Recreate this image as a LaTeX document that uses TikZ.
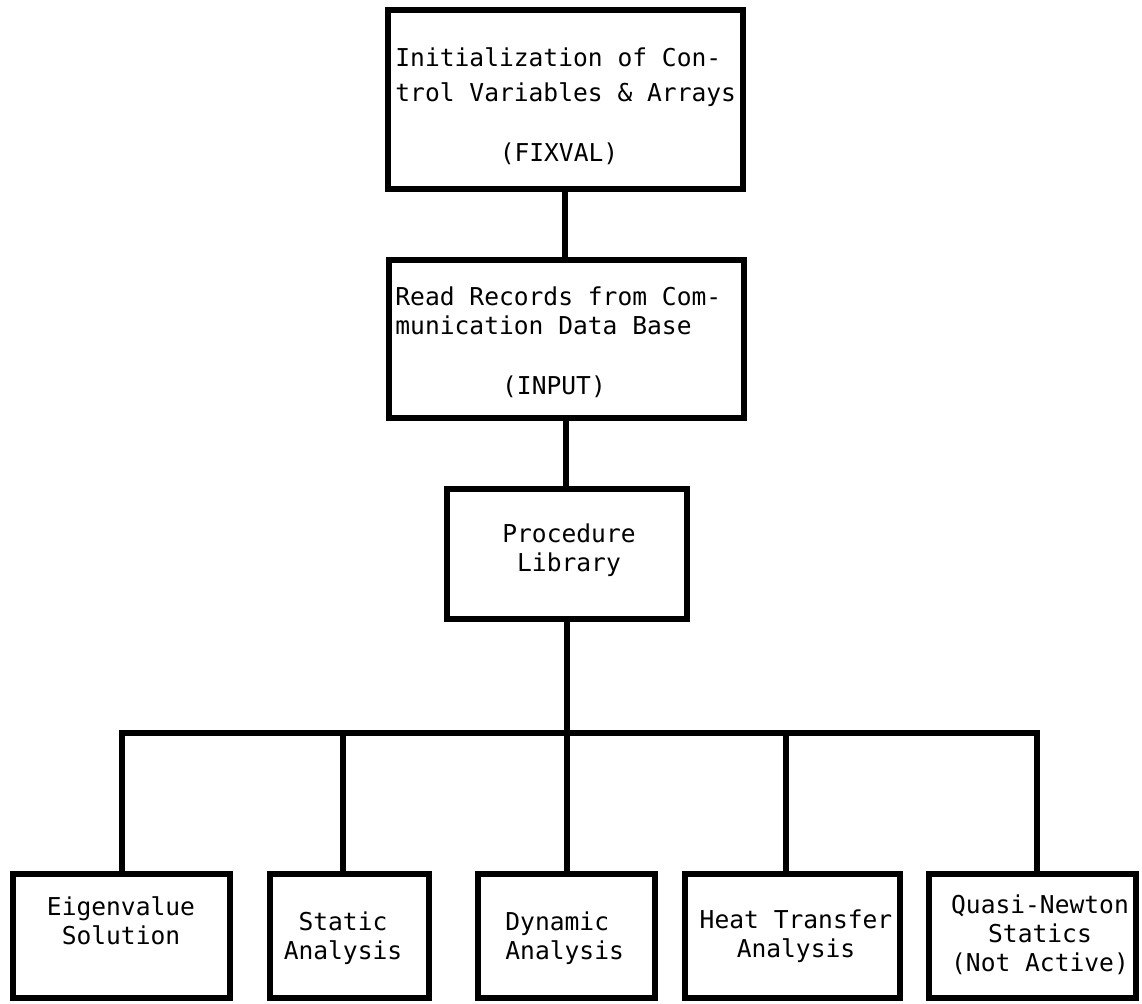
\documentclass[tikz,border=0pt]{standalone}
\usepackage{fontspec}
\setmonofont{DejaVu Sans Mono}

\begin{document}
\begin{tikzpicture}[x=0.5pt,y=-0.5pt,
  box/.style={draw, line width=3pt, inner sep=0pt},
  wire/.style={line width=2.6pt},
  txt/.style={font=\ttfamily\fontsize{12.3}{14.5}\selectfont, inner sep=0pt}]
\useasboundingbox (0,0) rectangle (1142,1004);
% main chain
\node[box, minimum width=177.5pt, minimum height=89.5pt] (fixval) at (565,99.5) {};
\node[box, minimum width=177.5pt, minimum height=79pt] (input) at (566,339) {};
\node[box, minimum width=120pt, minimum height=65pt] (proclib) at (567,554) {};
\node[txt, anchor=base west, align=left] (fixvaltxt) at (395,102) {Initialization of Con-\\[3pt]trol Variables \& Arrays};
\node[txt, anchor=base] (fixvalname) at (559,162) {(FIXVAL)};
\node[txt, anchor=base west, align=left] (inputtxt) at (395,335) {Read Records from Com-\\munication Data Base};
\node[txt, anchor=base] (inputname) at (554,395) {(INPUT)};
\node[txt, anchor=base, align=center] (proctxt) at (569,572) {Procedure\\Library};
% analysis modules
\node[box, minimum width=108.5pt, minimum height=62pt] (eigen) at (121.5,936) {};
\node[box, minimum width=79.5pt, minimum height=62pt] (static) at (349.5,936) {};
\node[box, minimum width=88.5pt, minimum height=62pt] (dynamic) at (566.5,936) {};
\node[box, minimum width=107.5pt, minimum height=62pt] (heat) at (792.5,936) {};
\node[box, minimum width=103.5pt, minimum height=62pt] (quasi) at (1032.5,936) {};
\node[txt, anchor=base, align=center] (eigentxt) at (121,945) {Eigenvalue\\Solution};
\node[txt, anchor=base, align=center] (statictxt) at (343,960) {Static\\Analysis};
\node[txt, anchor=base west, align=left] (dynamictxt) at (505,960) {Dynamic\\Analysis};
\node[txt, anchor=base, align=center] (heattxt) at (796,958) {Heat Transfer\\Analysis};
\node[txt, anchor=base, align=center] (quasitxt) at (1040,972) {Quasi-Newton\\Statics\\(Not Active)};
% bus
\coordinate (hub) at (567,733);
\coordinate (d1) at (122,733);
\coordinate (d2) at (343,733);
\coordinate (d4) at (786,733);
\coordinate (d5) at (1037,733);
\draw[wire] (fixval.south) -- (fixval.south |- input.north);
\draw[wire] (input.south) -- (input.south |- proclib.north);
\draw[wire] (proclib.south) -- (hub) -- (hub |- dynamic.north);
\draw[wire] (d1 |- eigen.north) -- (d1) -- (d5) -- (d5 |- quasi.north);
\draw[wire] (d2) -- (d2 |- static.north);
\draw[wire] (d4) -- (d4 |- heat.north);
\end{tikzpicture}
\end{document}
